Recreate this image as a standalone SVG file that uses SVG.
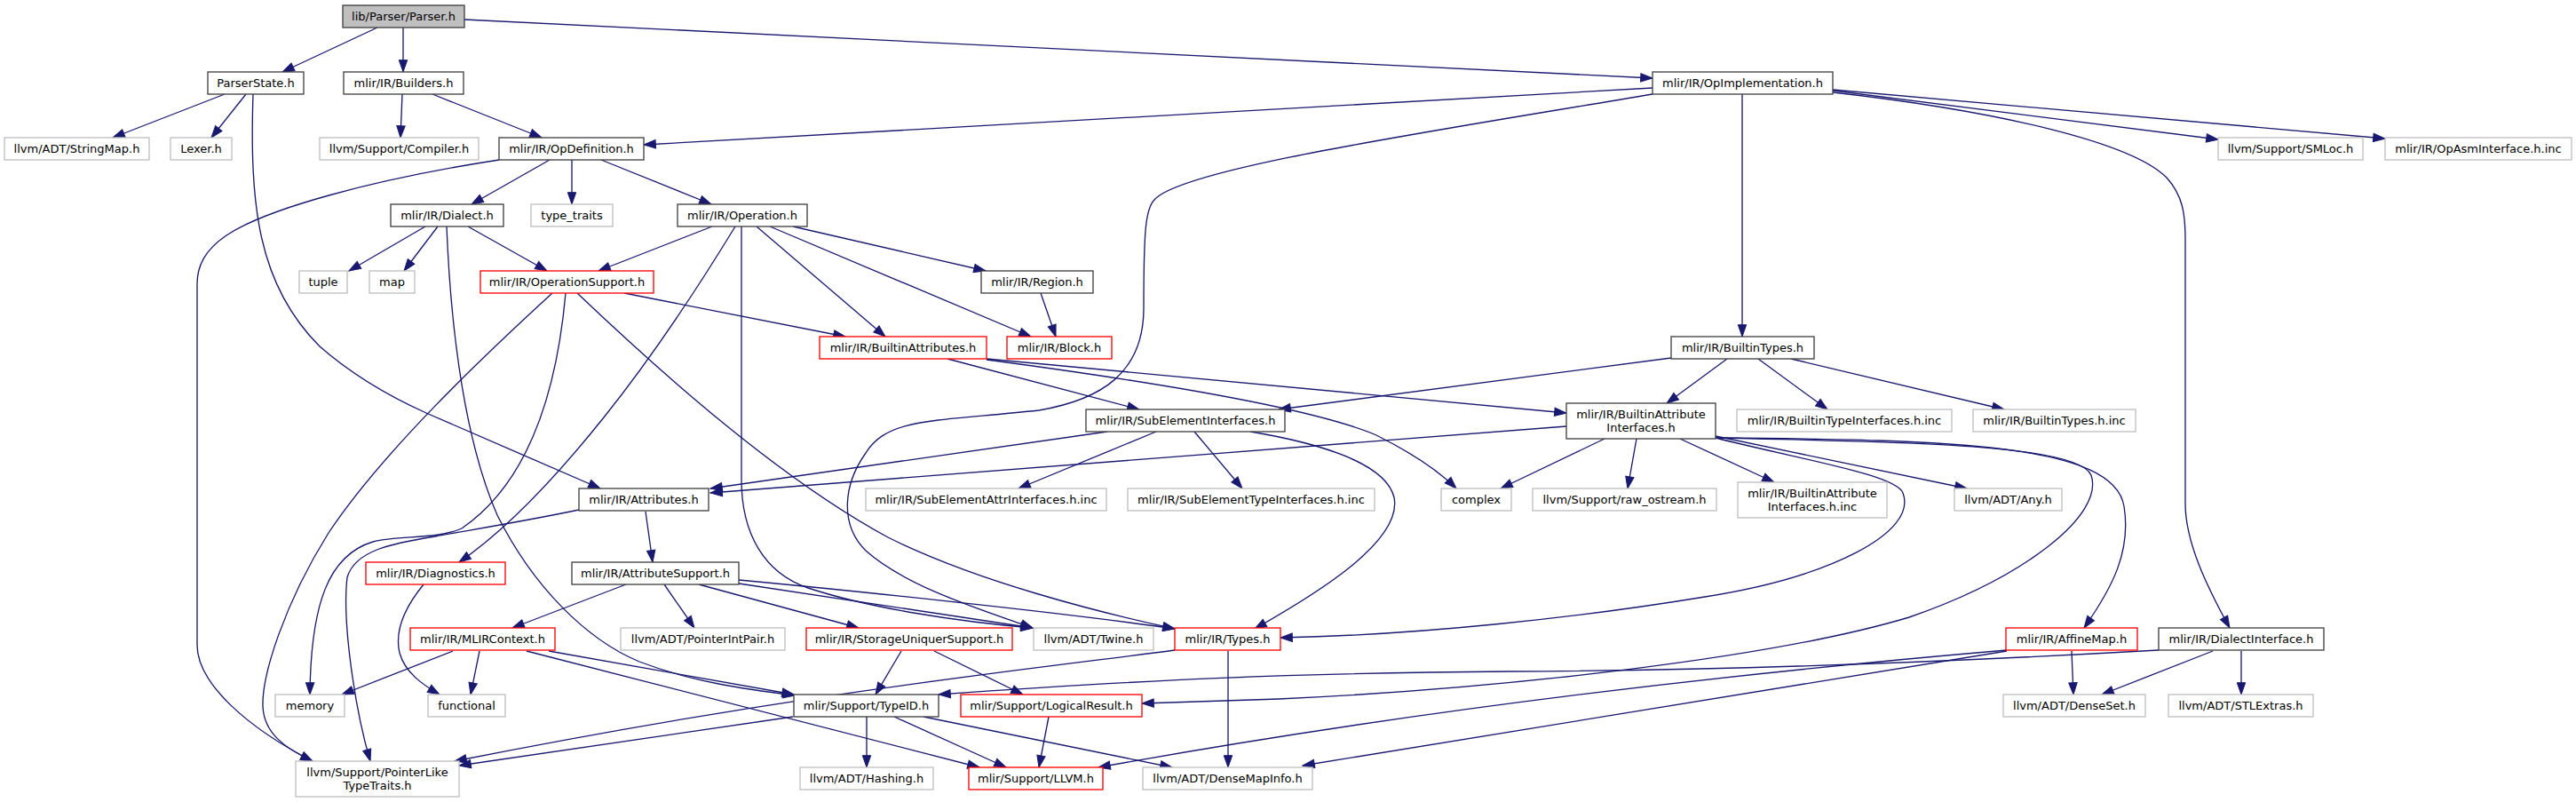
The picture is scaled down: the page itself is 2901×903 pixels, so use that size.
<svg xmlns="http://www.w3.org/2000/svg" width="2901" height="903" viewBox="0 0 2901 903">
<defs>
<style>
rect{fill:#fff;stroke:#404040;stroke-width:1.33}
rect.g{stroke:#bfbfbf}
rect.r{stroke:#ff0000}
rect.root{fill:#bfbfbf;stroke:#404040}
text{font-family:"DejaVu Sans",sans-serif;font-size:13px;text-anchor:middle;fill:#000}
#edges path{fill:none;stroke:#191970;stroke-width:1.33;marker-end:url(#a)}
</style>
<marker id="a" markerUnits="userSpaceOnUse" markerWidth="14" markerHeight="10" refX="13.3" refY="4.7" orient="auto" overflow="visible"><path d="M0,0 L13.3,4.7 L0,9.4 Z" fill="#191970" stroke="#191970" stroke-width="1"/></marker>
</defs>
<rect x="0" y="0" width="2901" height="903" style="fill:#fff;stroke:none"/>
<g id="edges">
<path d="M425,31 L318,81"/>
<path d="M454,31 L454,81"/>
<path d="M523,22 L1861,88"/>
<path d="M253,106 L127,155"/>
<path d="M277,106 L238,155"/>
<path d="M285,106 C281,230 290,320 360,390 C400,425 440,447 480,465 L676,550"/>
<path d="M453,106 L451,155"/>
<path d="M487,106 L610,155"/>
<path d="M1861,99 L725,163"/>
<path d="M1861,106 C1600,150 1330,190 1300,225 C1290,235 1288,260 1288,347 C1288,420 1240,450 1170,462 C1050,475 1000,470 975,510 C950,545 945,590 975,620 C1020,660 1100,685 1163,707"/>
<path d="M1962,106 L1962,379"/>
<path d="M2064,102 L2498,157"/>
<path d="M2064,101 L2686,156"/>
<path d="M2064,104 C2250,125 2400,160 2440,200 C2458,220 2461,240 2461,270 L2461,567 C2461,610 2485,660 2511,707"/>
<path d="M619,180 L531,230"/>
<path d="M644,180 L644,230"/>
<path d="M677,180 L801,230"/>
<path d="M562,180 C420,202 300,235 255,265 C230,282 222,300 222,320 L222,726 C222,770 280,820 352,857"/>
<path d="M479,255 L393,305"/>
<path d="M493,255 L455,305"/>
<path d="M527,255 L616,305"/>
<path d="M503,255 C508,380 525,500 560,580 C600,660 660,720 720,745 C780,768 840,776 895,783"/>
<path d="M802,255 L674,305"/>
<path d="M828,255 C770,350 720,420 680,470 C640,520 580,590 517,633"/>
<path d="M835,255 L835,540 C835,600 860,645 910,662 C980,685 1080,700 1163,707"/>
<path d="M852,255 L997,379"/>
<path d="M867,255 L1161,379"/>
<path d="M893,255 L1110,305"/>
<path d="M1172,330 L1189,379"/>
<path d="M703,330 L952,379"/>
<path d="M622,330 C540,405 430,510 370,600 C320,680 295,760 296,795 C297,825 320,842 352,857"/>
<path d="M637,330 C628,430 600,540 520,595 C490,608 450,602 420,610 C370,625 350,680 349,782"/>
<path d="M650,330 C750,425 880,540 1000,605 C1100,655 1240,690 1323,708"/>
<path d="M727,576 L735,633"/>
<path d="M652,574 C600,585 540,595 490,604 C440,612 400,620 391,650 C385,700 400,800 417,857"/>
<path d="M477,658 C455,685 444,710 450,735 C456,758 478,772 495,782"/>
<path d="M705,658 L577,707"/>
<path d="M748,658 L782,707"/>
<path d="M787,658 L967,707"/>
<path d="M832,657 L1163,707"/>
<path d="M832,653 C950,664 1200,690 1323,708"/>
<path d="M510,733 L385,782"/>
<path d="M540,733 L530,782"/>
<path d="M618,733 L894,782"/>
<path d="M593,733 L1103,864"/>
<path d="M1015,733 L986,782"/>
<path d="M1052,733 L1152,782"/>
<path d="M1323,732 C1150,755 900,780 512,857"/>
<path d="M1383,733 L1383,864"/>
<path d="M893,807 L517,862"/>
<path d="M976,807 L976,864"/>
<path d="M1007,807 L1133,864"/>
<path d="M1040,807 L1320,864"/>
<path d="M1181,807 L1170,864"/>
<path d="M1067,404 L1283,461"/>
<path d="M1111,404 L1764,465"/>
<path d="M1111,405 C1300,430 1480,460 1550,490 C1590,510 1620,530 1640,550"/>
<path d="M1882,403 L1440,461"/>
<path d="M1945,404 L1877,454"/>
<path d="M1980,404 L2058,461"/>
<path d="M2017,404 L2257,461"/>
<path d="M1247,486 L800,550"/>
<path d="M1302,486 L1147,550"/>
<path d="M1345,486 L1399,550"/>
<path d="M1408,486 C1480,498 1560,520 1570,560 C1580,610 1480,670 1413,708"/>
<path d="M1764,480 L800,555"/>
<path d="M1807,494 L1690,550"/>
<path d="M1843,494 L1833,550"/>
<path d="M1892,494 L1998,543"/>
<path d="M1932,491 L2215,550"/>
<path d="M1932,493 C2040,520 2135,535 2143,555 C2160,600 2060,650 1920,672 C1780,695 1600,715 1442,718"/>
<path d="M1932,493 C2150,498 2340,500 2355,535 C2370,580 2280,650 2150,695 C2000,740 1700,775 1440,787 L1286,792"/>
<path d="M1932,493 C2200,495 2380,500 2392,570 C2400,620 2380,660 2347,707"/>
<path d="M2333,733 L2335,782"/>
<path d="M2260,732 Q1700,780 1237,864"/>
<path d="M2260,733 L1467,862"/>
<path d="M2431,732 C2200,745 1950,755 1700,756 C1450,758 1300,765 1057,782"/>
<path d="M2492,733 L2367,782"/>
<path d="M2524,733 L2524,782"/>
</g>
<g id="n_parser"><rect class="root" x="386" y="6" width="137" height="25"/><text x="454.5" y="23">lib/Parser/Parser.h</text></g>
<g id="n_parserstate"><rect x="234" y="81" width="108" height="25"/><text x="288" y="98">ParserState.h</text></g>
<g id="n_builders"><rect x="387" y="81" width="135" height="25"/><text x="454.5" y="98">mlir/IR/Builders.h</text></g>
<g id="n_opimpl"><rect x="1861" y="81" width="203" height="25"/><text x="1962.5" y="98">mlir/IR/OpImplementation.h</text></g>
<g id="n_stringmap"><rect class="g" x="5" y="155" width="163" height="25"/><text x="86.5" y="172">llvm/ADT/StringMap.h</text></g>
<g id="n_lexer"><rect class="g" x="192" y="155" width="69" height="25"/><text x="226.5" y="172">Lexer.h</text></g>
<g id="n_compiler"><rect class="g" x="360" y="155" width="179" height="25"/><text x="449.5" y="172">llvm/Support/Compiler.h</text></g>
<g id="n_opdef"><rect x="562" y="155" width="163" height="25"/><text x="643.5" y="172">mlir/IR/OpDefinition.h</text></g>
<g id="n_smloc"><rect class="g" x="2498" y="155" width="163" height="25"/><text x="2579.5" y="172">llvm/Support/SMLoc.h</text></g>
<g id="n_opasm"><rect class="g" x="2686" y="155" width="210" height="25"/><text x="2791" y="172">mlir/IR/OpAsmInterface.h.inc</text></g>
<g id="n_dialect"><rect x="440" y="230" width="127" height="25"/><text x="503.5" y="247">mlir/IR/Dialect.h</text></g>
<g id="n_typetraits"><rect class="g" x="598" y="230" width="92" height="25"/><text x="644" y="247">type_traits</text></g>
<g id="n_operation"><rect x="763" y="230" width="146" height="25"/><text x="836" y="247">mlir/IR/Operation.h</text></g>
<g id="n_tuple"><rect class="g" x="337" y="305" width="54" height="25"/><text x="364" y="322">tuple</text></g>
<g id="n_map"><rect class="g" x="416" y="305" width="51" height="25"/><text x="441.5" y="322">map</text></g>
<g id="n_opsupport"><rect class="r" x="541" y="305" width="195" height="25"/><text x="638.5" y="322">mlir/IR/OperationSupport.h</text></g>
<g id="n_region"><rect x="1105" y="305" width="126" height="25"/><text x="1168" y="322">mlir/IR/Region.h</text></g>
<g id="n_builtinattrs"><rect class="r" x="923" y="379" width="188" height="25"/><text x="1017" y="396">mlir/IR/BuiltinAttributes.h</text></g>
<g id="n_block"><rect class="r" x="1134" y="379" width="118" height="25"/><text x="1193" y="396">mlir/IR/Block.h</text></g>
<g id="n_builtintypes"><rect x="1882" y="379" width="161" height="25"/><text x="1962.5" y="396">mlir/IR/BuiltinTypes.h</text></g>
<g id="n_subelem"><rect x="1223" y="461" width="224" height="25"/><text x="1335" y="478">mlir/IR/SubElementInterfaces.h</text></g>
<g id="n_bai"><rect x="1764" y="454" width="168" height="40"/><text x="1848" y="470.5">mlir/IR/BuiltinAttribute</text><text x="1848" y="485.5">Interfaces.h</text></g>
<g id="n_btiinc"><rect class="g" x="1956" y="461" width="242" height="25"/><text x="2077" y="478">mlir/IR/BuiltinTypeInterfaces.h.inc</text></g>
<g id="n_btinc"><rect class="g" x="2222" y="461" width="183" height="25"/><text x="2313.5" y="478">mlir/IR/BuiltinTypes.h.inc</text></g>
<g id="n_attributes"><rect x="652" y="550" width="146" height="25"/><text x="725" y="567">mlir/IR/Attributes.h</text></g>
<g id="n_seainc"><rect class="g" x="975" y="550" width="271" height="25"/><text x="1110.5" y="567">mlir/IR/SubElementAttrInterfaces.h.inc</text></g>
<g id="n_setinc"><rect class="g" x="1270" y="550" width="278" height="25"/><text x="1409" y="567">mlir/IR/SubElementTypeInterfaces.h.inc</text></g>
<g id="n_complex"><rect class="g" x="1623" y="550" width="79" height="25"/><text x="1662.5" y="567">complex</text></g>
<g id="n_rawostream"><rect class="g" x="1726" y="550" width="207" height="25"/><text x="1829.5" y="567">llvm/Support/raw_ostream.h</text></g>
<g id="n_baiinc"><rect class="g" x="1957" y="543" width="168" height="40"/><text x="2041" y="559.5">mlir/IR/BuiltinAttribute</text><text x="2041" y="574.5">Interfaces.h.inc</text></g>
<g id="n_any"><rect class="g" x="2201" y="550" width="121" height="25"/><text x="2261.5" y="567">llvm/ADT/Any.h</text></g>
<g id="n_diagnostics"><rect class="r" x="412" y="633" width="157" height="25"/><text x="490.5" y="650">mlir/IR/Diagnostics.h</text></g>
<g id="n_attrsupport"><rect x="644" y="633" width="188" height="25"/><text x="738" y="650">mlir/IR/AttributeSupport.h</text></g>
<g id="n_mlircontext"><rect class="r" x="462" y="707" width="163" height="25"/><text x="543.5" y="724">mlir/IR/MLIRContext.h</text></g>
<g id="n_ptrintpair"><rect class="g" x="699" y="707" width="185" height="25"/><text x="791.5" y="724">llvm/ADT/PointerIntPair.h</text></g>
<g id="n_storage"><rect class="r" x="908" y="707" width="232" height="25"/><text x="1024" y="724">mlir/IR/StorageUniquerSupport.h</text></g>
<g id="n_twine"><rect class="g" x="1164" y="707" width="135" height="25"/><text x="1231.5" y="724">llvm/ADT/Twine.h</text></g>
<g id="n_types"><rect class="r" x="1323" y="707" width="119" height="25"/><text x="1382.5" y="724">mlir/IR/Types.h</text></g>
<g id="n_affinemap"><rect class="r" x="2259" y="707" width="148" height="25"/><text x="2333" y="724">mlir/IR/AffineMap.h</text></g>
<g id="n_dialectiface"><rect x="2431" y="707" width="186" height="25"/><text x="2524" y="724">mlir/IR/DialectInterface.h</text></g>
<g id="n_memory"><rect class="g" x="310" y="782" width="78" height="25"/><text x="349" y="799">memory</text></g>
<g id="n_functional"><rect class="g" x="482" y="782" width="87" height="25"/><text x="525.5" y="799">functional</text></g>
<g id="n_typeid"><rect x="894" y="782" width="163" height="25"/><text x="975.5" y="799">mlir/Support/TypeID.h</text></g>
<g id="n_logical"><rect class="r" x="1082" y="782" width="204" height="25"/><text x="1184" y="799">mlir/Support/LogicalResult.h</text></g>
<g id="n_denseset"><rect class="g" x="2256" y="782" width="160" height="25"/><text x="2336" y="799">llvm/ADT/DenseSet.h</text></g>
<g id="n_stlextras"><rect class="g" x="2442" y="782" width="163" height="25"/><text x="2523.5" y="799">llvm/ADT/STLExtras.h</text></g>
<g id="n_ptrlike"><rect class="g" x="333" y="857" width="184" height="40"/><text x="425" y="873.5">llvm/Support/PointerLike</text><text x="425" y="888.5">TypeTraits.h</text></g>
<g id="n_hashing"><rect class="g" x="901" y="864" width="150" height="25"/><text x="976" y="881">llvm/ADT/Hashing.h</text></g>
<g id="n_llvm"><rect class="r" x="1091" y="864" width="151" height="25"/><text x="1166.5" y="881">mlir/Support/LLVM.h</text></g>
<g id="n_densemapinfo"><rect class="g" x="1287" y="864" width="191" height="25"/><text x="1382.5" y="881">llvm/ADT/DenseMapInfo.h</text></g>
</svg>
